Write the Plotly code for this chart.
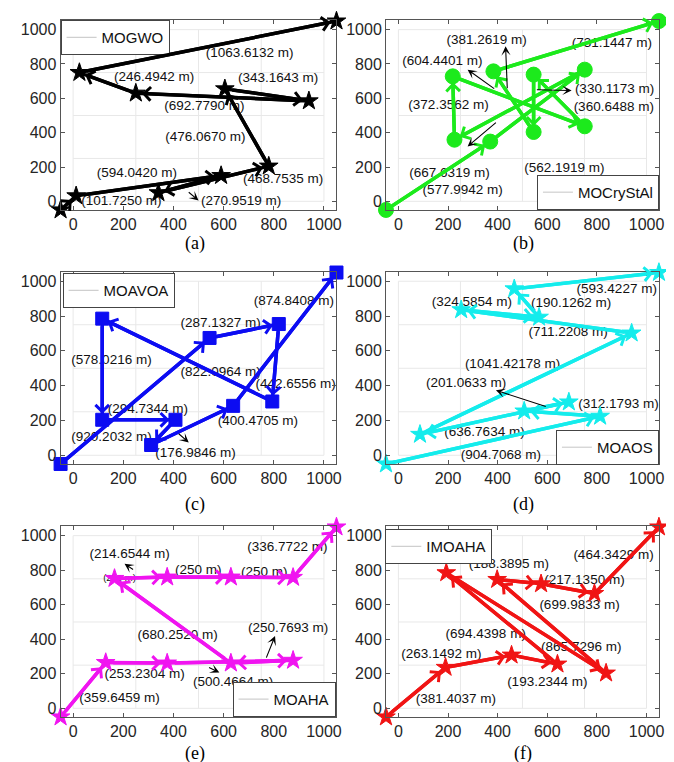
import plotly.graph_objects as go

# ---------------- data (route points in metres, segment distances) ----------------
a_name = "MOGWO"
a_x = [-50, 12, 590, 340, 780, 605, 940, 250, 25, 1050]
a_y = [-50, 32, 150, 50, 205, 655, 585, 630, 750, 1050]
a_dist = ["(101.7250 m)", "(594.0420 m)", "(270.9519 m)", "(468.7535 m)", "(476.0670 m)",
          "(343.1643 m)", "(692.7790 m)", "(246.4942 m)", "(1063.6132 m)"]

b_name = "MOCryStAl"
b_x = [-50, 370, 751, 226, 219, 751, 545, 545, 383, 1050]
b_y = [-50, 348, 767, 359, 728, 437, 738, 404, 757, 1050]
b_dist = ["(577.9942 m)", "(562.1919 m)", "(667.6319 m)", "(372.3562 m)", "(604.4401 m)",
          "(360.6488 m)", "(330.1173 m)", "(381.2619 m)", "(731.1447 m)"]

c_name = "MOAVOA"
c_x = [-50, 544, 820, 794, 116, 116, 408, 311, 638, 1050]
c_y = [-50, 674, 754, 309, 785, 204, 204, 59, 284, 1050]
c_dist = ["(920.2032 m)", "(287.1327 m)", "(442.6556 m)", "(822.0964 m)", "(578.0216 m)",
          "(294.7344 m)", "(176.9846 m)", "(400.4705 m)", "(874.8408 m)"]

d_name = "MOAOS"
d_x = [-50, 813, 507, 687, 87, 940, 253, 567, 467, 1050]
d_y = [-50, 224, 254, 306, 120, 702, 836, 793, 956, 1050]
d_dist = ["(904.7068 m)", "(312.1793 m)", "(201.0633 m)", "(636.7634 m)", "(1041.42178 m)",
          "(711.2208 m)", "(324.5854 m)", "(190.1262 m)", "(593.4227 m)"]

e_name = "MOAHA"
e_x = [-50, 130, 375, 877, 629, 165, 375, 629, 877, 1050]
e_y = [-50, 265, 262, 278, 262, 752, 760, 760, 758, 1050]
e_dist = ["(359.6459 m)", "(253.2304 m)", "(500.4664 m)", "(250.7693 m)", "(680.2520 m)",
          "(214.6544 m)", "(250 m)", "(250 m)", "(336.7722 m)"]
e_hidden = ["(250 m)"]

f_name = "IMOAHA"
f_x = [-50, 190, 456, 641, 193, 837, 398, 575, 790, 1050]
f_y = [-50, 237, 308, 256, 785, 204, 746, 721, 665, 1050]
f_dist = ["(381.4037 m)", "(263.1492 m)", "(193.2344 m)", "(694.4398 m)", "(865.7296 m)",
          "(699.9833 m)", "(188.3895 m)", "(217.1350 m)", "(464.3429 m)"]

tick_vals = [0, 200, 400, 600, 800, 1000]
grid_vals = [0, 250, 500, 750, 1000]

# ---------------- placement of text labels (data units) ----------------
a_lx = [192, 254, 670, 837, 527, 817, 523, 323, 704]
a_ly = [-4, 161, -4, 126, 371, 715, 553, 718, 860]
b_lx = [259, 669, 206, 202, 177, 868, 871, 356, 860]
b_ly = [62, 190, 161, 559, 816, 548, 650, 938, 917]
c_lx = [153, 588, 887, 588, 153, 298, 488, 737, 880]
c_ly = [103, 754, 408, 474, 545, 265, 11, 194, 880]
d_lx = [413, 887, 273, 347, 460, 684, 296, 696, 880]
d_ly = [0, 291, 411, 128, 522, 702, 876, 870, 954]
e_lx = [185, 285, 638, 857, 417, 225, 499, 762, 854]
e_ly = [54, 198, 150, 462, 423, 890, 798, 788, 933]
e_hx = [185]
e_hy = [750]
f_lx = [232, 173, 600, 352, 737, 730, 445, 750, 867]
f_ly = [50, 310, 146, 429, 352, 592, 833, 740, 885]

# thin pointer arrows: (tail x, tail y, head x, head y)
a_ptr = [(455, 60, 500, 5)]
b_ptr = [(439, 650, 432, 903), (392, 650, 279, 767), (552, 650, 698, 645), (399, 466, 279, 320)]
c_ptr = [(415, 131, 461, 74)]
d_ptr = [(600, 277, 393, 373)]
e_ptr = [(245, 798, 205, 837), (768, 285, 805, 419), (536, 240, 583, 208)]
f_ptr = []

panels = [
    dict(name=a_name, x=a_x, y=a_y, dist=a_dist, lx=a_lx, ly=a_ly, ptr=a_ptr, color="#000000",
         symbol="star", size=14, lw=3.5, tag="(a)",
         leg=dict(x=0.0786, y=0.984, xanchor="left", yanchor="top")),
    dict(name=b_name, x=b_x, y=b_y, dist=b_dist, lx=b_lx, ly=b_ly, ptr=b_ptr, color="#1cea1c",
         symbol="circle", size=15, lw=3.5, tag="(b)",
         leg=dict(x=0.973, y=0.735, xanchor="right", yanchor="bottom")),
    dict(name=c_name, x=c_x, y=c_y, dist=c_dist, lx=c_lx, ly=c_ly, ptr=c_ptr, color="#0c0cf2",
         symbol="square", size=13, lw=3.5, tag="(c)",
         leg=dict(x=0.0816, y=0.652, xanchor="left", yanchor="top")),
    dict(name=d_name, x=d_x, y=d_y, dist=d_dist, lx=d_lx, ly=d_ly, ptr=d_ptr, color="#14ecec",
         symbol="star", size=14, lw=3.5, tag="(d)",
         leg=dict(x=0.973, y=0.4003, xanchor="right", yanchor="bottom")),
    dict(name=e_name, x=e_x, y=e_y, dist=e_dist, lx=e_lx, ly=e_ly, ptr=e_ptr, color="#f014f0",
         symbol="star", size=14, lw=3.5, tag="(e)",
         leg=dict(x=0.4896, y=0.0696, xanchor="right", yanchor="bottom")),
    dict(name=f_name, x=f_x, y=f_y, dist=f_dist, lx=f_lx, ly=f_ly, ptr=f_ptr, color="#f01414",
         symbol="star", size=14, lw=3.5, tag="(f)",
         leg=dict(x=0.564, y=0.316, xanchor="left", yanchor="top")),
]

col_dom = [[0.0786, 0.491], [0.565, 0.973]]
row_dom = [[0.735, 0.984], [0.4016, 0.654], [0.0696, 0.320]]
tag_pos = [(0.279, 0.6916), (0.770, 0.6916), (0.279, 0.3478), (0.770, 0.3478),
           (0.279, 0.021), (0.770, 0.021)]

FONT = "Liberation Sans, Arial, sans-serif"

fig = go.Figure()
layout = dict(width=674, height=762, margin=dict(l=0, r=0, t=0, b=0),
              paper_bgcolor="white", plot_bgcolor="white", showlegend=True)
annotations = []
shapes = []

for i, p in enumerate(panels):
    n = "" if i == 0 else str(i + 1)
    xa, ya = "x" + n, "y" + n
    row, col = i // 2, i % 2
    axis_common = dict(tickvals=tick_vals, ticks="inside", ticklen=4,
                       showline=True, mirror="ticks", linecolor="#555555", linewidth=1,
                       tickcolor="#555555", showgrid=False, zeroline=False,
                       tickfont=dict(family=FONT, size=16, color="#262626"), fixedrange=True)
    layout["xaxis" + n] = dict(axis_common, range=[-50, 1050], domain=col_dom[col], anchor=ya)
    layout["yaxis" + n] = dict(axis_common, range=[-50, 1055], domain=row_dom[row], anchor=xa)

    # light reference grid inside the 0..1000 field
    for g in grid_vals:
        shapes.append(dict(type="line", xref=xa, yref=ya, x0=g, x1=g, y0=0, y1=1000,
                           line=dict(color="#e8e8e8", width=1), layer="below"))
        shapes.append(dict(type="line", xref=xa, yref=ya, x0=0, x1=1000, y0=g, y1=g,
                           line=dict(color="#e8e8e8", width=1), layer="below"))

    # distance labels (under the path, as in the original)
    fig.add_trace(go.Scatter(x=p["lx"], y=p["ly"], text=p["dist"], mode="text",
                             textfont=dict(family=FONT, size=13.5, color="#111111"),
                             xaxis=xa, yaxis=ya, showlegend=False, hoverinfo="skip",
                             cliponaxis=False))
    if i == 4:
        fig.add_trace(go.Scatter(x=e_hx, y=e_hy, text=e_hidden, mode="text",
                                 textfont=dict(family=FONT, size=9.5, color="#111111"),
                                 xaxis=xa, yaxis=ya, showlegend=False, hoverinfo="skip",
                                 cliponaxis=False))

    # route
    fig.add_trace(go.Scatter(x=p["x"], y=p["y"], mode="lines+markers",
                             line=dict(color=p["color"], width=p["lw"]),
                             marker=dict(symbol=p["symbol"], size=p["size"], color=p["color"],
                                         line=dict(color=p["color"], width=1)),
                             xaxis=xa, yaxis=ya, showlegend=False, cliponaxis=False))

    # legend entry (thin grey sample line, as in the original)
    legkey = "legend" + n
    fig.add_trace(go.Scatter(x=[None], y=[None], mode="lines", name=p["name"],
                             line=dict(color="#cfcfcf", width=1.2),
                             xaxis=xa, yaxis=ya, legend=legkey, showlegend=True))
    layout[legkey] = dict(p["leg"], bgcolor="white", bordercolor="#444444", borderwidth=1,
                          font=dict(family=FONT, size=15, color="#111111"),
                          itemwidth=30, tracegroupgap=0)

    # quiver-style arrowheads on each segment
    for k in range(len(p["x"]) - 1):
        annotations.append(dict(x=p["x"][k + 1], y=p["y"][k + 1], ax=p["x"][k], ay=p["y"][k],
                                xref=xa, yref=ya, axref=xa, ayref=ya, text="",
                                showarrow=True, arrowhead=4, arrowsize=0.75,
                                arrowwidth=p["lw"], arrowcolor=p["color"],
                                standoff=6, startstandoff=6))
    # thin black pointer arrows
    for (tx, ty, hx, hy) in p["ptr"]:
        annotations.append(dict(x=hx, y=hy, ax=tx, ay=ty, xref=xa, yref=ya, axref=xa,
                                ayref=ya, text="", showarrow=True, arrowhead=3,
                                arrowsize=1.4, arrowwidth=1.1, arrowcolor="#000000"))
    # panel tag
    tx, ty = tag_pos[i]
    annotations.append(dict(x=tx, y=ty, xref="paper", yref="paper", text=p["tag"],
                            xanchor="center", yanchor="middle", showarrow=False,
                            font=dict(family="Liberation Serif, Times New Roman, serif",
                                      size=18, color="#000000")))

layout["annotations"] = annotations
layout["shapes"] = shapes
fig.update_layout(**layout)
fig.write_html("out.html")
